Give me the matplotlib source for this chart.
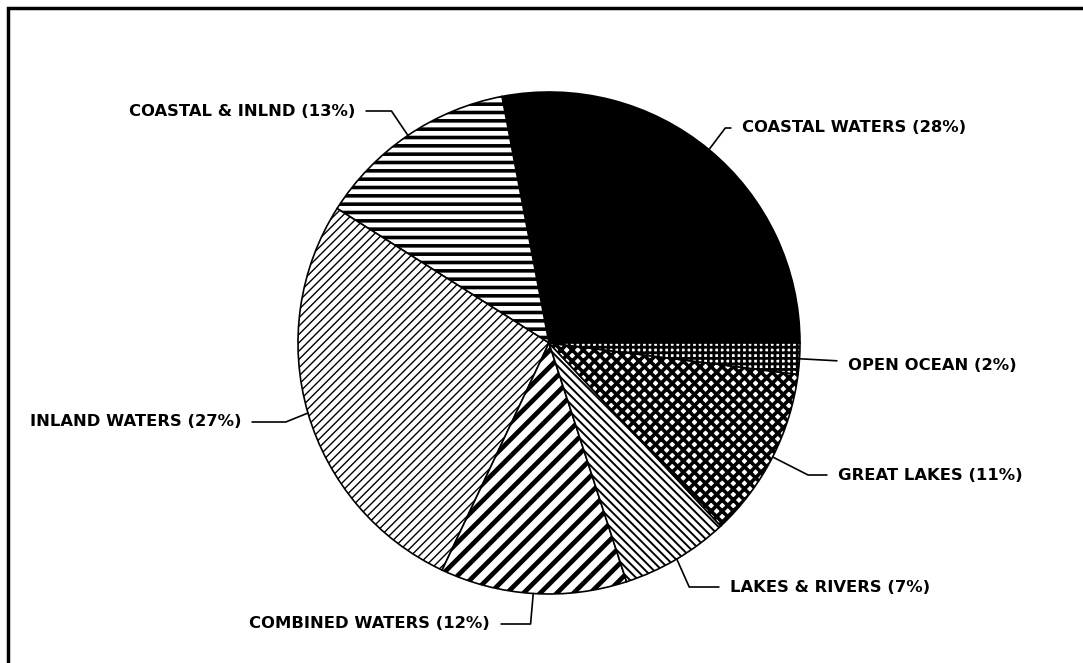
import matplotlib
matplotlib.use('Agg')
import matplotlib.pyplot as plt
import numpy as np
from matplotlib.patches import Rectangle

W, H = 1083, 663

# data
names = ['COASTAL WATERS', 'COASTAL & INLND', 'INLAND WATERS', 'COMBINED WATERS',
         'LAKES & RIVERS', 'GREAT LAKES', 'OPEN OCEAN']
pcts = [28, 13, 27, 12, 7, 11, 2]

# styling per slice
faces = ['black', 'white', 'white', 'white', 'white', 'white', 'white']
hatches = [None, '--', '////', '//', '\\\\\\\\', 'xxx', '+++']
hatch_lw = [1.0, 2.6, 1.0, 3.4, 1.4, 2.6, 2.0]

# label layout (pixel coords from top-left), alignment and leader angle
label_xy = [(742, 128), (355, 111), (241, 422), (490, 624), (730, 587), (838, 475), (848, 366)]
label_ha = ['left', 'right', 'right', 'right', 'left', 'left', 'left']
leader_ang = [53, 124, 202, 265, 294, 333, None]

cx, cy, r = 549, 343, 251

fig = plt.figure(figsize=(W / 100, H / 100), dpi=100)
ax = fig.add_axes([0, 0, 1, 1])

wedges, _ = ax.pie(pcts, startangle=0, counterclock=True, center=(cx, H - cy), radius=r,
                   colors=faces,
                   wedgeprops=dict(edgecolor='black', linewidth=1.2))
for w, h, lw in zip(wedges, hatches, hatch_lw):
    if h:
        w.set_hatch(h)
        if hasattr(w, 'set_hatch_linewidth'):
            w.set_hatch_linewidth(lw)

ax.set_xlim(0, W)
ax.set_ylim(0, H)
ax.set_aspect('equal')
ax.axis('off')

# leader lines + labels
for w, name, p, (tx, ty), ha, ang in zip(wedges, names, pcts, label_xy, label_ha, leader_ang):
    mid = np.deg2rad((w.theta1 + w.theta2) / 2)
    px = cx + r * np.cos(mid)
    py = (H - cy) + r * np.sin(mid)
    if ang is None:
        cs = 'arc3,rad=0'
    else:
        cs = f'angle,angleA=0,angleB={ang},rad=0'
    ax.annotate(f'{name} ({p}%)', xy=(px, py), xytext=(tx, H - ty),
                ha=ha, va='center', fontsize=11.75, fontweight='bold', family='DejaVu Sans',
                arrowprops=dict(arrowstyle='-', color='black', lw=1.2,
                                connectionstyle=cs, shrinkA=6, shrinkB=0))

# border (only top and left edges visible)
ax.add_patch(Rectangle((8, -20), W + 40, H - 8 + 20, fill=False, edgecolor='black',
                       linewidth=2.5, clip_on=False))

fig.savefig('out.png', dpi=100, facecolor='white')
